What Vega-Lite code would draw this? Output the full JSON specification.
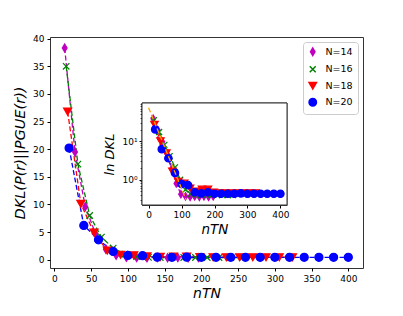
{
  "$schema": "https://vega.github.io/schema/vega-lite/v6.json",
  "width": 313,
  "height": 231,
  "autosize": "none",
  "padding": {"left": 50, "top": 37, "right": 40, "bottom": 48},
  "background": "white",
  "config": {
    "font": "DejaVu Sans",
    "view": {"stroke": "#333", "strokeWidth": 1},
    "axis": {"grid": false, "domain": false, "tickColor": "#000", "tickSize": 3, "labelColor": "#000", "labelFont": "DejaVu Sans", "labelFontSize": 9, "titleColor": "#000", "titleFont": "DejaVu Sans", "titleFontStyle": "italic", "titleFontWeight": "normal"}
  },
  "datasets": {
    "d": [
      {"N": "N=14", "x": 14, "y": 38.3}, {"N": "N=14", "x": 28, "y": 19.5}, {"N": "N=14", "x": 42, "y": 9.6}, {"N": "N=14", "x": 56, "y": 4.7}, {"N": "N=14", "x": 70, "y": 1.9}, {"N": "N=14", "x": 84, "y": 0.8}, {"N": "N=14", "x": 98, "y": 0.42}, {"N": "N=14", "x": 112, "y": 0.37}, {"N": "N=14", "x": 126, "y": 0.36}, {"N": "N=14", "x": 140, "y": 0.37}, {"N": "N=14", "x": 154, "y": 0.36}, {"N": "N=14", "x": 168, "y": 0.37}, {"N": "N=14", "x": 182, "y": 0.36}, {"N": "N=14", "x": 196, "y": 0.37},
      {"N": "N=16", "x": 16, "y": 35.0}, {"N": "N=16", "x": 32, "y": 17.3}, {"N": "N=16", "x": 48, "y": 8.0}, {"N": "N=16", "x": 64, "y": 4.1}, {"N": "N=16", "x": 80, "y": 2.1}, {"N": "N=16", "x": 96, "y": 1.0}, {"N": "N=16", "x": 112, "y": 0.55}, {"N": "N=16", "x": 128, "y": 0.42}, {"N": "N=16", "x": 144, "y": 0.4}, {"N": "N=16", "x": 160, "y": 0.4}, {"N": "N=16", "x": 176, "y": 0.4}, {"N": "N=16", "x": 192, "y": 0.4}, {"N": "N=16", "x": 208, "y": 0.4}, {"N": "N=16", "x": 224, "y": 0.4}, {"N": "N=16", "x": 240, "y": 0.4}, {"N": "N=16", "x": 256, "y": 0.4},
      {"N": "N=18", "x": 18, "y": 26.8}, {"N": "N=18", "x": 36, "y": 10.1}, {"N": "N=18", "x": 54, "y": 4.9}, {"N": "N=18", "x": 72, "y": 1.65}, {"N": "N=18", "x": 90, "y": 0.9}, {"N": "N=18", "x": 108, "y": 0.8}, {"N": "N=18", "x": 126, "y": 0.6}, {"N": "N=18", "x": 144, "y": 0.5}, {"N": "N=18", "x": 162, "y": 0.56}, {"N": "N=18", "x": 180, "y": 0.56}, {"N": "N=18", "x": 198, "y": 0.47}, {"N": "N=18", "x": 216, "y": 0.45}, {"N": "N=18", "x": 234, "y": 0.45}, {"N": "N=18", "x": 252, "y": 0.45}, {"N": "N=18", "x": 270, "y": 0.45}, {"N": "N=18", "x": 288, "y": 0.45}, {"N": "N=18", "x": 306, "y": 0.45}, {"N": "N=18", "x": 324, "y": 0.45},
      {"N": "N=20", "x": 20, "y": 20.2}, {"N": "N=20", "x": 40, "y": 6.2}, {"N": "N=20", "x": 60, "y": 3.6}, {"N": "N=20", "x": 80, "y": 1.5}, {"N": "N=20", "x": 100, "y": 0.78}, {"N": "N=20", "x": 120, "y": 0.72}, {"N": "N=20", "x": 140, "y": 0.47}, {"N": "N=20", "x": 160, "y": 0.44}, {"N": "N=20", "x": 180, "y": 0.47}, {"N": "N=20", "x": 200, "y": 0.43}, {"N": "N=20", "x": 220, "y": 0.43}, {"N": "N=20", "x": 240, "y": 0.43}, {"N": "N=20", "x": 260, "y": 0.43}, {"N": "N=20", "x": 280, "y": 0.44}, {"N": "N=20", "x": 300, "y": 0.43}, {"N": "N=20", "x": 320, "y": 0.43}, {"N": "N=20", "x": 340, "y": 0.43}, {"N": "N=20", "x": 360, "y": 0.43}, {"N": "N=20", "x": 380, "y": 0.43}, {"N": "N=20", "x": 400, "y": 0.43}
    ],
    "fit": [{"x": 0, "y": 74}, {"x": 114, "y": 0.3}]
  },
  "layer": [
    {
      "data": {"name": "d"},
      "encoding": {
        "x": {"field": "x", "type": "quantitative", "scale": {"domain": [-6, 420], "nice": false, "zero": false}, "axis": {"orient": "bottom", "values": [0, 50, 100, 150, 200, 250, 300, 350, 400], "title": "nTN", "titleFontSize": 14, "titlePadding": 3, "labelPadding": 3}},
        "y": {"field": "y", "type": "quantitative", "scale": {"domain": [-1.5, 40.3], "nice": false, "zero": false}, "axis": {"orient": "left", "values": [0, 5, 10, 15, 20, 25, 30, 35, 40], "title": "DKL(P(r)||PGUE(r))", "titleFontSize": 14.5, "titlePadding": 5, "labelPadding": 3}}
      },
      "layer": [
        {
          "mark": {"type": "line", "strokeDash": [5, 2.5], "strokeWidth": 1.3},
          "encoding": {
            "stroke": {"field": "N", "type": "nominal", "title": null, "scale": {"domain": ["N=14", "N=16", "N=18", "N=20"], "range": ["#bf00bf", "#008000", "#ff0000", "#0000ff"]}},
            "detail": {"field": "N"}
          }
        },
        {
          "mark": {"type": "point", "filled": true, "strokeWidth": 1.2, "opacity": 1, "size": 65},
          "encoding": {
            "fill": {"field": "N", "type": "nominal", "title": null, "scale": {"domain": ["N=14", "N=16", "N=18", "N=20"], "range": ["#bf00bf", "#008000", "#ff0000", "#0000ff"]}, "legend": {"orient": "top-right", "offset": 5, "title": null, "strokeColor": "#cccccc", "fillColor": "white", "padding": 5, "cornerRadius": 3, "labelFontSize": 9.5, "labelColor": "#000", "symbolSize": 55, "rowPadding": 3.5, "labelOffset": 8}},
            "stroke": {"field": "N", "type": "nominal", "title": null, "scale": {"domain": ["N=14", "N=16", "N=18", "N=20"], "range": ["#bf00bf", "#008000", "#ff0000", "#0000ff"]}},
            "shape": {"field": "N", "type": "nominal", "title": null, "scale": {"domain": ["N=14", "N=16", "N=18", "N=20"], "range": ["M0,-1L0.6,0L0,1L-0.6,0Z", "M-0.8,-0.8L0.8,0.8M-0.8,0.8L0.8,-0.8", "triangle-down", "circle"]}}
          }
        }
      ]
    },
    {
      "encoding": {
        "x": {"field": "x", "type": "quantitative", "scale": {"domain": [-20, 420], "range": [92, 237], "nice": false, "zero": false}, "axis": {"orient": "bottom", "offset": -63, "domain": true, "domainColor": "#333", "values": [0, 100, 200, 300, 400], "title": "nTN", "titleFontSize": 13.5, "titlePadding": 3, "labelPadding": 2}},
        "y": {"field": "y", "type": "quantitative", "scale": {"type": "log", "domain": [0.22, 98], "range": [168, 66], "nice": false}, "axis": {"orient": "left", "offset": -92, "domain": true, "domainColor": "#333", "values": [0.3, 0.4, 0.5, 0.6, 0.7, 0.8, 0.9, 1, 2, 3, 4, 5, 6, 7, 8, 9, 10, 20, 30, 40, 50, 60, 70, 80, 90], "labelExpr": "datum.value == 1 ? '10⁰' : (datum.value == 10 ? '10¹' : '')", "tickSize": {"condition": {"test": "datum.value == 1 || datum.value == 10", "value": 3}, "value": 1.8}, "title": "ln DKL", "titleFontSize": 13, "titlePadding": 5, "labelPadding": 2}}
      },
      "layer": [
        {
          "data": {"name": "fit"},
          "mark": {"type": "rect", "fill": "white", "stroke": "#333", "strokeWidth": 1},
          "encoding": {
            "x": {"datum": -20, "type": "quantitative"},
            "x2": {"datum": 420},
            "y": {"datum": 0.22, "type": "quantitative"},
            "y2": {"datum": 98}
          }
        },
        {
          "data": {"name": "d"},
          "mark": {"type": "line", "strokeDash": [5, 2.5], "strokeWidth": 1.3},
          "encoding": {
            "stroke": {"field": "N", "type": "nominal", "title": null, "scale": {"domain": ["N=14", "N=16", "N=18", "N=20"], "range": ["#bf00bf", "#008000", "#ff0000", "#0000ff"]}},
            "detail": {"field": "N"}
          }
        },
        {
          "data": {"name": "d"},
          "mark": {"type": "point", "filled": true, "strokeWidth": 1.2, "opacity": 1, "size": 55},
          "encoding": {
            "fill": {"field": "N", "type": "nominal", "title": null, "scale": {"domain": ["N=14", "N=16", "N=18", "N=20"], "range": ["#bf00bf", "#008000", "#ff0000", "#0000ff"]}},
            "stroke": {"field": "N", "type": "nominal", "title": null, "scale": {"domain": ["N=14", "N=16", "N=18", "N=20"], "range": ["#bf00bf", "#008000", "#ff0000", "#0000ff"]}},
            "shape": {"field": "N", "type": "nominal", "title": null, "scale": {"domain": ["N=14", "N=16", "N=18", "N=20"], "range": ["M0,-1L0.6,0L0,1L-0.6,0Z", "M-0.8,-0.8L0.8,0.8M-0.8,0.8L0.8,-0.8", "triangle-down", "circle"]}}
          }
        },
        {
          "data": {"name": "fit"},
          "mark": {"type": "line", "color": "orange", "strokeDash": [5, 2.5], "strokeWidth": 1.3},
          "encoding": {}
        }
      ]
    }
  ],
  "resolve": {"scale": {"x": "independent", "y": "independent"}}
}
